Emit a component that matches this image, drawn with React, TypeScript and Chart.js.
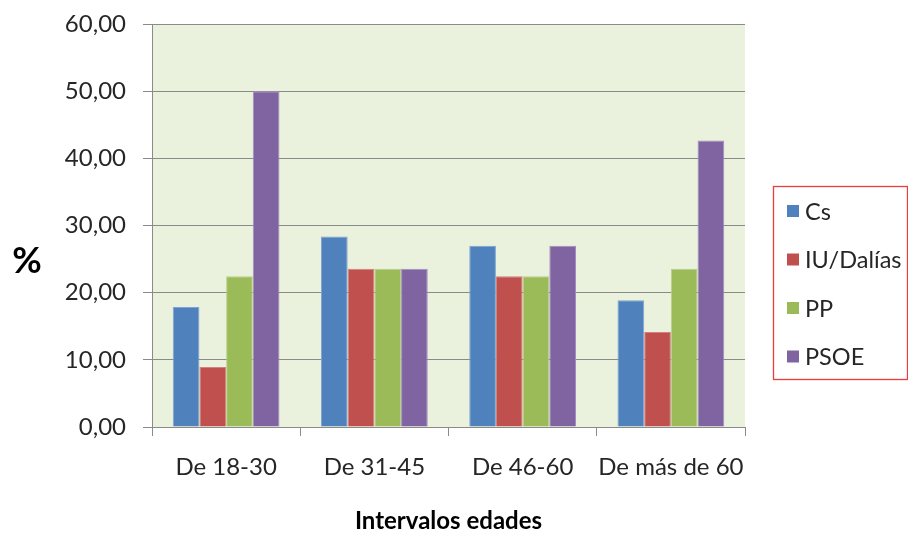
import React, { useEffect, useRef } from "react";
import { Chart, registerables } from "chart.js";

Chart.register(...registerables);

const categories = ["De 18-30", "De 31-45", "De 46-60", "De más de 60"];
const seriesNames = ["Cs", "IU/Dalías", "PP", "PSOE"];
const csValues = [17.86, 28.38, 27.0, 18.87];
const iuValues = [8.93, 23.57, 22.45, 14.15];
const ppValues = [22.45, 23.57, 22.45, 23.57];
const psoeValues = [50.0, 23.57, 27.0, 42.66];
const yTicks = [0, 10, 20, 30, 40, 50, 60];

const colors = ["#4F81BD", "#C0504D", "#9BBB59", "#8064A2"];
const borderColors = ["#7FA3D3", "#D4807E", "#B9D08A", "#A18DBD"];
const FONT = "Lato, 'Open Sans', sans-serif";
const TEXT = "#262626";
const GRID = "#8A8A8A";

const plotBg = {
  id: "plotBg",
  beforeDraw(chart: any) {
    const { ctx, chartArea } = chart;
    ctx.save();
    ctx.fillStyle = "#EAF1DD";
    ctx.fillRect(chartArea.left, chartArea.top, chartArea.right - chartArea.left, chartArea.bottom - chartArea.top);
    ctx.restore();
  },
};

const extras = {
  id: "extras",
  afterDraw(chart: any) {
    const { ctx } = chart;
    ctx.save();
    // "%" axis label
    ctx.fillStyle = "#000";
    ctx.font = `bold 36px ${FONT}`;
    ctx.textAlign = "center";
    ctx.textBaseline = "middle";
    ctx.fillText("%", 27, 261);
    // legend box
    ctx.strokeStyle = "#EE3B3B";
    ctx.lineWidth = 1.3;
    ctx.strokeRect(773.5, 186.5, 134, 193);
    ctx.font = `23.5px ${FONT}`;
    ctx.textAlign = "left";
    chart.data.datasets.forEach((ds: any, i: number) => {
      const cy = 211 + i * 48.5;
      ctx.fillStyle = ds.backgroundColor;
      ctx.fillRect(787, cy - 6, 12, 12);
      ctx.fillStyle = TEXT;
      ctx.fillText(ds.label, 805, cy + 1);
    });
    ctx.restore();
  },
};

export default function App() {
  const ref = useRef<HTMLCanvasElement>(null);
  useEffect(() => {
    document.body.style.margin = "0";
    const values = [csValues, iuValues, ppValues, psoeValues];
    const chart = new Chart(ref.current!, {
      type: "bar",
      data: {
        labels: categories,
        datasets: seriesNames.map((name, i) => ({
          label: name,
          data: values[i],
          backgroundColor: colors[i],
          borderColor: borderColors[i],
          borderWidth: 1,
          categoryPercentage: 0.72,
          barPercentage: 1.0,
        })),
      },
      options: {
        animation: false,
        responsive: true,
        maintainAspectRatio: false,
        layout: { padding: { top: 24, right: 163, left: 0, bottom: 0 } },
        plugins: { legend: { display: false }, tooltip: { enabled: false } },
        scales: {
          x: {
            afterFit: (s: any) => {
              s.height = 106;
              s.paddingLeft = 0;
              s.paddingRight = 0;
            },
            grid: {
              drawOnChartArea: false,
              drawTicks: true,
              tickLength: 9,
              color: GRID,
              offset: true,
            },
            border: { color: GRID, width: 1 },
            ticks: {
              color: TEXT,
              font: { family: FONT, size: 24 },
              padding: 17,
              maxRotation: 0,
            },
            title: {
              display: true,
              text: "Intervalos edades",
              color: "#000",
              font: { family: FONT, size: 24, weight: "bold", lineHeight: 1.0 },
              padding: { top: 0, bottom: 0 },
            },
          },
          y: {
            min: 0,
            max: 60,
            afterFit: (s: any) => {
              s.width = 152;
              s.paddingTop = 0;
              s.paddingBottom = 0;
            },
            afterBuildTicks: (s: any) => {
              s.ticks = yTicks.map((v) => ({ value: v }));
            },
            grid: { color: GRID, tickLength: 9, lineWidth: 1 },
            border: { color: GRID, width: 1 },
            ticks: {
              color: TEXT,
              font: { family: FONT, size: 24 },
              padding: 17,
              callback: (v: any) => Number(v).toFixed(2).replace(".", ","),
            },
          },
        },
      },
      plugins: [plotBg, extras],
    });
    return () => chart.destroy();
  }, []);
  return (
    <div style={{ position: "absolute", left: 0, top: 0, width: 908, height: 533, background: "#fff" }}>
      <canvas ref={ref} />
    </div>
  );
}
